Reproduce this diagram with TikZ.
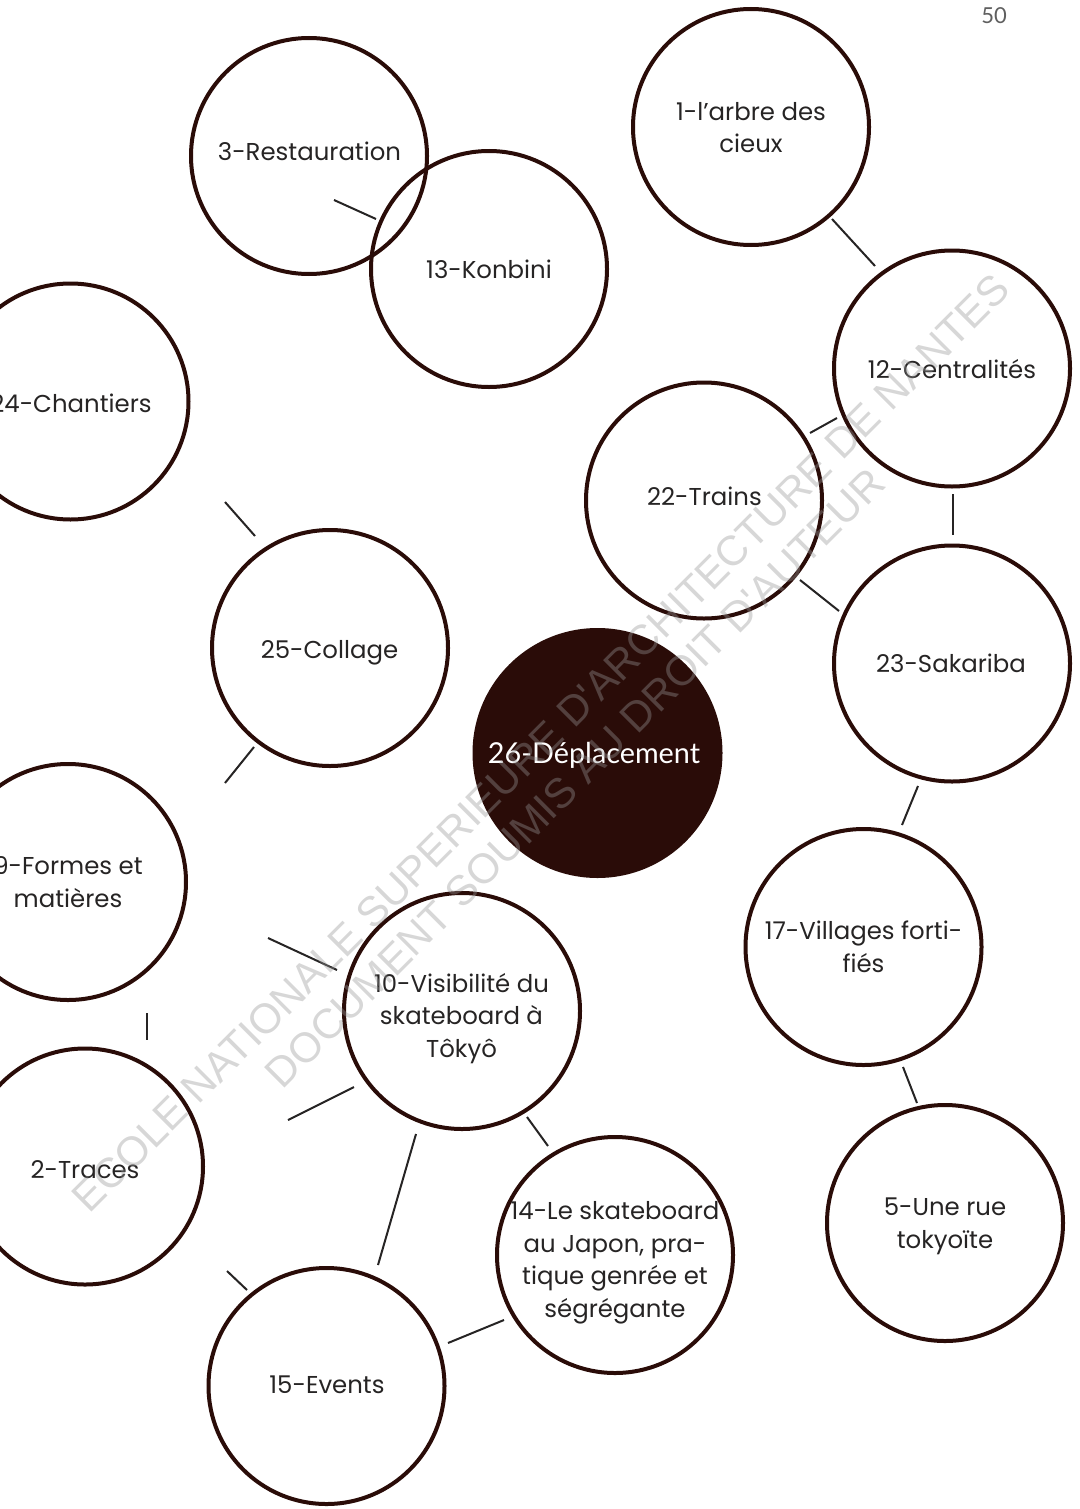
\documentclass[tikz,border=0pt]{standalone}
\usepackage{fontspec}
\setmainfont{Poppins}
\newfontfamily\hubfont{Lato}
\newfontfamily\wmfont{Liberation Sans}
\definecolor{ring}{RGB}{42,12,8}
\definecolor{ink}{RGB}{38,36,36}
\definecolor{wm}{RGB}{150,150,150}
\definecolor{pagegray}{RGB}{95,95,95}
\begin{document}
\begin{tikzpicture}[x=0.5pt,y=-0.5pt,
  bubble/.style={circle, draw=ring, line width=2pt, minimum size=118pt, inner sep=0pt, outer sep=0pt},
  hub/.style={circle, fill=ring, minimum size=125pt, inner sep=0pt, outer sep=0pt},
  lbl/.style={text=ink, font=\fontsize{12.2}{16.25}\selectfont, align=center, inner sep=0pt, anchor=base},
  hublbl/.style={text=white, font=\hubfont\fontsize{14.4}{16}\selectfont, inner sep=0pt, anchor=base},
  link/.style={draw=ink, line width=1pt},
  wmark/.style={text=wm, opacity=0.38, font=\wmfont\fontsize{21}{25}\selectfont, rotate=45, inner sep=0pt}]
\useasboundingbox (0,0) rectangle (1080,1509);
\clip (0,0) rectangle (1080,1509);
% connector end points
\coordinate (a1) at (334,200);  \coordinate (b1) at (376,219);
\coordinate (a2) at (832,219);  \coordinate (b2) at (875,266);
\coordinate (a3) at (837,418);  \coordinate (b3) at (810,433);
\coordinate (a4) at (953,494);  \coordinate (b4) at (953,535);
\coordinate (a5) at (800,580);  \coordinate (b5) at (839,611);
\coordinate (a6) at (225,502);  \coordinate (b6) at (255,536);
\coordinate (a7) at (254,747);  \coordinate (b7) at (225,783);
\coordinate (a8) at (918,786);  \coordinate (b8) at (902,825);
\coordinate (a9) at (268,938);  \coordinate (b9) at (337,970);
\coordinate (a10) at (147,1013); \coordinate (b10) at (147,1040);
\coordinate (a11) at (354,1087); \coordinate (b11) at (288,1120);
\coordinate (a12) at (527,1117); \coordinate (b12) at (548,1146);
\coordinate (a13) at (416,1134); \coordinate (b13) at (378,1265);
\coordinate (a14) at (903,1067); \coordinate (b14) at (917,1103);
\coordinate (a15) at (227,1271); \coordinate (b15) at (247,1290);
\coordinate (a16) at (504,1320); \coordinate (b16) at (448,1343);
\foreach \i in {1,...,16} { \draw[link] (a\i) -- (b\i); }
% circles
\node[bubble] (c1) at (751,127) {};
\node[bubble] (c3) at (309,156) {};
\node[bubble] (c13) at (489,269) {};
\node[bubble] (c24) at (70.5,401.5) {};
\node[bubble] (c12) at (952,368.5) {};
\node[bubble] (c22) at (704,500.5) {};
\node[bubble] (c25) at (330,648) {};
\node[bubble] (c23) at (952,663.5) {};
\node[bubble] (c9) at (68,882) {};
\node[bubble] (c17) at (863.5,947) {};
\node[bubble] (c10) at (462,1011) {};
\node[bubble] (c2) at (85,1166.5) {};
\node[bubble] (c14) at (615,1255) {};
\node[bubble] (c5) at (945,1223) {};
\node[bubble] (c15) at (326.5,1386) {};
\node[hub] (c26) at (597.5,753) {};
% labels (base = baseline of the last line)
\node[lbl] (t1) at (751,153) {1-l’arbre des\\cieux};
\node[lbl] (t3) at (309.5,160) {3-Restauration};
\node[lbl] (t13) at (489,278) {13-Konbini};
\node[lbl] (t24) at (71,412) {24-Chantiers};
\node[lbl] (t12) at (952,378) {12-Centralités};
\node[lbl] (t22) at (704.5,505) {22-Trains};
\node[lbl] (t25) at (329.5,658) {25-Collage};
\node[lbl] (t23) at (951,672) {23-Sakariba};
\node[hublbl] (t26) at (594,763) {26-Déplacement};
\node[lbl] (t9) at (68,907) {9-Formes et\\matières};
\node[lbl] (t17) at (863.5,972) {17-Villages forti-\\fiés};
\node[lbl] (t10) at (461.5,1057) {10-Visibilité du\\skateboard à\\Tôkyô};
\node[lbl] (t2) at (85,1178) {2-Traces};
\node[lbl] (t14) at (615,1317) {14-Le skateboard\\au Japon, pra-\\tique genrée et\\ségrégante};
\node[lbl] (t5) at (945,1248) {5-Une rue\\tokyoïte};
\node[lbl] (t15) at (327,1393) {15-Events};
\node[anchor=base, text=pagegray, inner sep=0pt, font=\hubfont\fontsize{11}{13}\selectfont] (pg) at (994,24) {50};
% watermark
\node[wmark] (w1) at (541,743) {ECOLE NATIONALE SUPERIEURE D'ARCHITECTURE DE NANTES};
\node[wmark] (w2) at (575,778) {DOCUMENT SOUMIS AU DROIT D'AUTEUR};
\end{tikzpicture}
\end{document}
